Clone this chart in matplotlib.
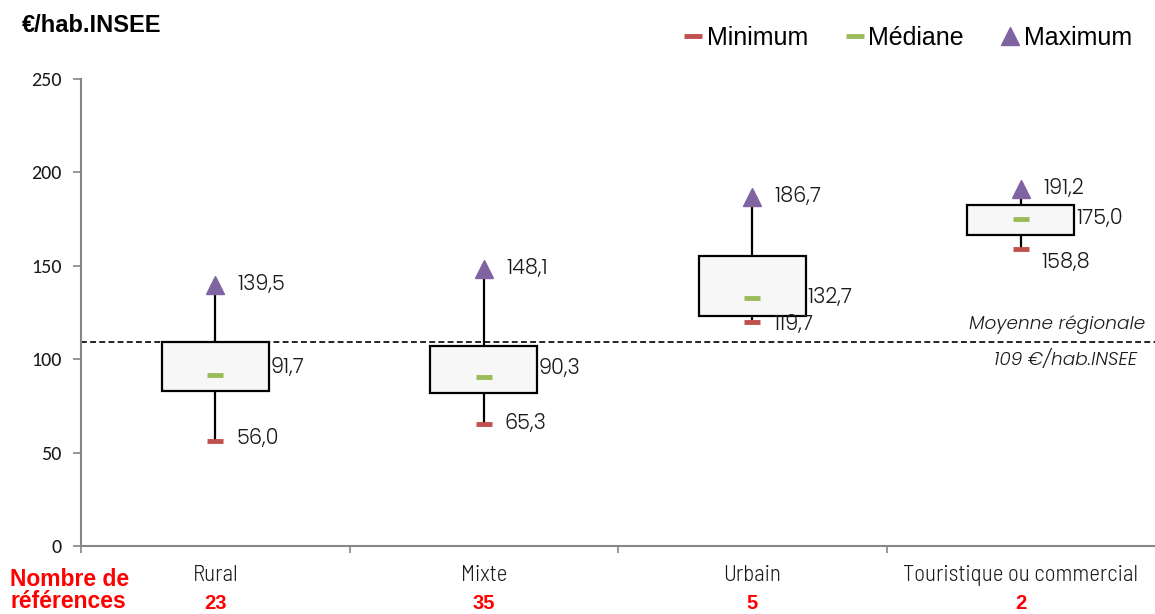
import matplotlib
matplotlib.use("Agg")
import matplotlib.pyplot as plt
from matplotlib.lines import Line2D

# Data
categories = ["Rural", "Mixte", "Urbain", "Touristique ou commercial"]
n_refs = [23, 35, 5, 2]
minimum = [56.0, 65.3, 119.7, 158.8]
q1 = [83.0, 82.0, 123.0, 166.5]
median = [91.7, 90.3, 132.7, 175.0]
q3 = [109.2, 107.0, 155.2, 182.5]
maximum = [139.5, 148.1, 186.7, 191.2]
regional_mean = 109

RED = "#C0504D"
GREEN = "#9BBB59"
PURPLE = "#8064A2"
AXIS_GREY = "#868686"
TEXT = "#1a1a1a"
LABEL_FONT = ["Poppins", "DejaVu Sans"]
CAT_FONT = ["Barlow Semi Condensed", "DejaVu Sans"]
ARIAL = ["Liberation Sans", "DejaVu Sans"]
TICK_FONT = ["Carlito", "DejaVu Sans"]

fig = plt.figure(figsize=(11.55, 6.14), dpi=100)
ax = fig.add_axes([81 / 1155, 68 / 614, 1074 / 1155, 467 / 614])

xs = list(range(len(categories)))
box_w = 0.4

for x, lo, a, m, b, hi in zip(xs, minimum, q1, median, q3, maximum):
    # whiskers
    ax.plot([x, x], [b, hi], color="black", lw=1.6, zorder=2)
    ax.plot([x, x], [lo, a], color="black", lw=1.6, zorder=2)
    # box between the quartiles
    ax.add_patch(plt.Rectangle((x - box_w / 2, a), box_w, b - a,
                               facecolor="#F7F7F7", edgecolor="black",
                               lw=1.6, zorder=3))

ax.plot(xs, minimum, ls="none", marker="_", ms=12, mew=3.5, color=RED, zorder=4)
ax.plot(xs, median, ls="none", marker="_", ms=12, mew=3.5, color=GREEN, zorder=4)
ax.plot(xs, maximum, ls="none", marker="^", ms=12.5, color=PURPLE, zorder=4)

def fmt(v):
    return f"{v:.1f}".replace(".", ",")

# value labels
value_style = dict(textcoords="offset points", ha="left", va="center",
                   fontsize=15, fontweight=300, family=LABEL_FONT, color=TEXT)
med_dy = [5, 6, 0, 0]
min_dy = [2, 0, -2, -10]
for x, v in zip(xs, maximum):
    ax.annotate(fmt(v), (x, v), xytext=(16, 0), **value_style)
for x, v, dy in zip(xs, median, med_dy):
    ax.annotate(fmt(v), (x + box_w / 2, v), xytext=(1, dy), **value_style)
for x, v, dy in zip(xs, minimum, min_dy):
    ax.annotate(fmt(v), (x, v), xytext=(15, dy), **value_style)

# regional mean
ax.axhline(regional_mean, color="black", lw=1.2, ls=(0, (3.5, 2)), zorder=1)
mean_style = dict(xycoords=("axes fraction", "data"), textcoords="offset points",
                  ha="right", va="center", fontsize=13.3, style="italic",
                  fontweight=300, family=LABEL_FONT, color=TEXT)
ax.annotate("Moyenne régionale", (1, regional_mean), xytext=(-7, 13), **mean_style)
ax.annotate(f"{regional_mean} €/hab.INSEE", (1, regional_mean), xytext=(-13, -13),
            **mean_style)

# axes
ax.set_xlim(-0.5, 3.5)
ax.set_ylim(0, 250)
ax.set_yticks([0, 50, 100, 150, 200, 250])
ax.tick_params(axis="y", direction="out", length=6, color=AXIS_GREY, width=1.2,
               labelsize=14.5, labelcolor=TEXT, pad=8)
for lab in ax.get_yticklabels():
    lab.set_family(TICK_FONT)
ax.set_xticks([-0.5, 0.5, 1.5, 2.5])
ax.set_xticklabels([])
ax.tick_params(axis="x", direction="out", length=5, color=AXIS_GREY, width=1.2)
for s in ["top", "right"]:
    ax.spines[s].set_visible(False)
for s in ["left", "bottom"]:
    ax.spines[s].set_color(AXIS_GREY)
    ax.spines[s].set_linewidth(1.5)

# category labels and reference counts
for x, c, n in zip(xs, categories, n_refs):
    ax.annotate(c, (x, 0), xytext=(0, -21), textcoords="offset points",
                ha="center", va="center", fontsize=16.5, fontweight=300,
                family=CAT_FONT, color=TEXT, annotation_clip=False)
    ax.annotate(str(n), (x, 0), xytext=(0, -41.5), textcoords="offset points",
                ha="center", va="center", fontsize=14.5, fontweight="bold",
                family=ARIAL, color="#FF0000", annotation_clip=False)

fig.text(10 / 1155, 1 - 579 / 614, "Nombre de", ha="left", va="center",
         fontsize=16.5, fontweight="bold", family=ARIAL, color="#FF0000")
fig.text(10 / 1155, 1 - 601 / 614, "références", ha="left", va="center",
         fontsize=16.5, fontweight="bold", family=ARIAL, color="#FF0000")

fig.text(22 / 1155, 1 - 26 / 614, "€/hab.INSEE", ha="left", va="center",
         fontsize=17, fontweight="bold", family=ARIAL)

# legend
handles = [
    Line2D([], [], ls="none", marker="_", ms=13, mew=3.5, color=RED),
    Line2D([], [], ls="none", marker="_", ms=13, mew=3.5, color=GREEN),
    Line2D([], [], ls="none", marker="^", ms=12.5, color=PURPLE),
]
fig.legend(handles, ["Minimum", "Médiane", "Maximum"], loc="center right",
           bbox_to_anchor=(1132 / 1155, 1 - 38 / 614), ncol=3, frameon=False,
           handlelength=0.7, handletextpad=0.2, columnspacing=1.5,
           borderaxespad=0, borderpad=0,
           prop={"family": ARIAL, "size": 18})

fig.savefig("out.png", dpi=100)
